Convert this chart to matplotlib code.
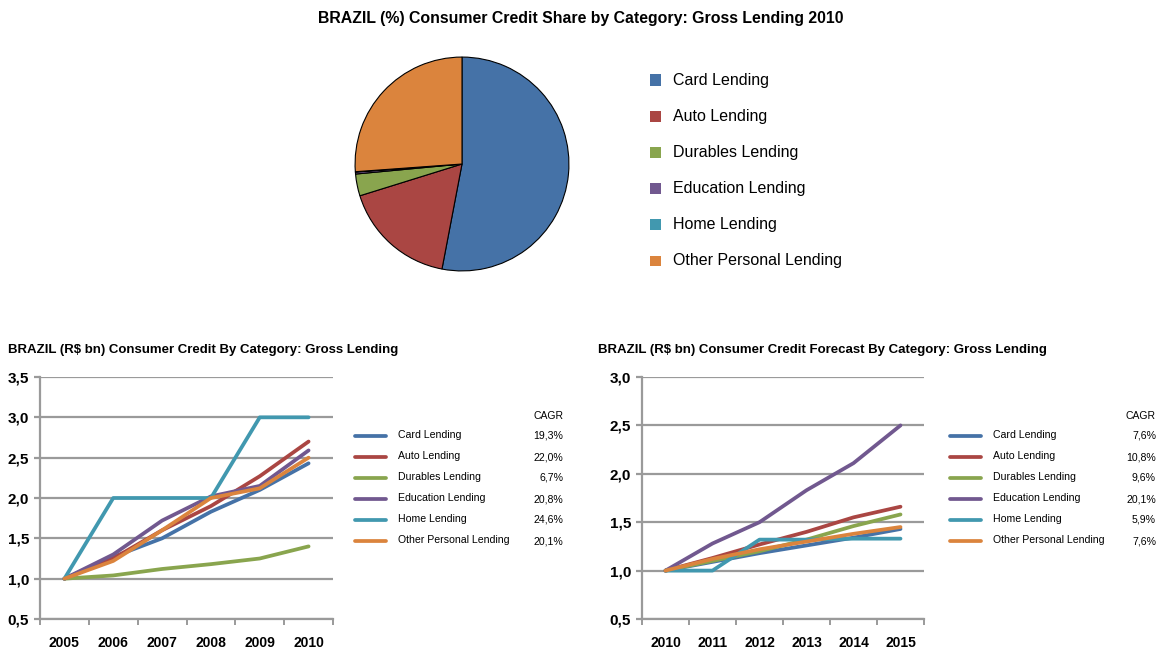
import matplotlib
matplotlib.use("Agg")
import matplotlib.pyplot as plt
from matplotlib.lines import Line2D
from matplotlib.patches import Rectangle
import numpy as np

plt.rcParams['font.family'] = ['Liberation Sans', 'DejaVu Sans']

W, H = 1162, 650

categories = ["Card Lending", "Auto Lending", "Durables Lending", "Education Lending",
              "Home Lending", "Other Personal Lending"]
colors = ["#4572A7", "#AA4643", "#89A54E", "#71588F", "#4198AF", "#DB843D"]

pie_share = [53.0, 17.2, 3.3, 0.3, 0.05, 26.15]

hist_years = ["2005", "2006", "2007", "2008", "2009", "2010"]
hist_card = [1.0, 1.27, 1.50, 1.83, 2.10, 2.43]
hist_auto = [1.0, 1.25, 1.60, 1.90, 2.27, 2.70]
hist_durables = [1.0, 1.04, 1.12, 1.18, 1.25, 1.40]
hist_education = [1.0, 1.30, 1.72, 2.02, 2.15, 2.59]
hist_home = [1.0, 2.0, 2.0, 2.0, 3.0, 3.0]
hist_other = [1.0, 1.22, 1.60, 2.00, 2.12, 2.50]
hist_cagr = ["19,3%", "22,0%", "6,7%", "20,8%", "24,6%", "20,1%"]

fc_years = ["2010", "2011", "2012", "2013", "2014", "2015"]
fc_card = [1.0, 1.09, 1.18, 1.26, 1.34, 1.43]
fc_auto = [1.0, 1.13, 1.27, 1.40, 1.55, 1.66]
fc_durables = [1.0, 1.10, 1.20, 1.32, 1.46, 1.58]
fc_education = [1.0, 1.28, 1.50, 1.83, 2.11, 2.50]
fc_home = [1.0, 1.0, 1.32, 1.32, 1.33, 1.33]
fc_other = [1.0, 1.12, 1.22, 1.30, 1.38, 1.45]
fc_cagr = ["7,6%", "10,8%", "9,6%", "20,1%", "5,9%", "7,6%"]

hist_series = [hist_card, hist_auto, hist_durables, hist_education, hist_home, hist_other]
fc_series = [fc_card, fc_auto, fc_durables, fc_education, fc_home, fc_other]

fig = plt.figure(figsize=(W / 100, H / 100), dpi=100)


def fx(px):
    return px / W


def fy(py):
    return 1 - py / H


def rect(l, t, r, b):
    return [fx(l), fy(b), fx(r) - fx(l), fy(t) - fy(b)]


# Title
fig.text(fx(581), fy(18), "BRAZIL (%) Consumer Credit Share by Category: Gross Lending 2010",
         ha="center", va="center", fontsize=11.4, fontweight="bold")

# Pie
axp = fig.add_axes(rect(354, 56, 570, 272))
axp.pie(pie_share, colors=colors, startangle=90, counterclock=False,
        wedgeprops=dict(edgecolor="black", linewidth=0.8))
axp.set_xlim(-1.01, 1.01)
axp.set_ylim(-1.01, 1.01)
axp.set_aspect("equal")

for i, (name, c) in enumerate(zip(categories, colors)):
    yy = 80 + i * 36.2
    fig.add_artist(Rectangle((fx(650), fy(yy + 5.5)), fx(11), fy(yy - 5.5) - fy(yy + 5.5),
                             transform=fig.transFigure, facecolor=c, edgecolor="none"))
    fig.text(fx(673), fy(yy), name, ha="left", va="center", fontsize=11.5)


def line_chart(box, years, series, ylim, yticks, title, title_xy, leg_x, cagr_x, cagr):
    ax = fig.add_axes(rect(*box))
    x = np.arange(len(years))
    for s, c in zip(series, colors):
        ax.plot(x, s, color=c, linewidth=2.7, solid_capstyle="round", zorder=3)
    ax.set_xlim(-0.5, len(years) - 0.5)
    ax.set_ylim(*ylim)
    ax.set_yticks(yticks)
    ax.set_yticklabels([f"{v:.1f}".replace(".", ",") for v in yticks],
                       fontsize=11, fontweight="bold")
    ax.yaxis.grid(True, color="#9a9a9a", linewidth=1.6)
    ax.set_axisbelow(True)
    ax.tick_params(axis="y", length=4, width=1.6, color="#9a9a9a", pad=4)
    ax.set_xticks(x)
    ax.set_xticklabels(years, fontsize=10, fontweight="bold")
    ax.set_xticks(np.arange(-0.5, len(years) + 0.5, 1), minor=True)
    ax.tick_params(axis="x", which="major", length=0, pad=12)
    ax.tick_params(axis="x", which="minor", length=4, width=1.4, color="#9a9a9a")
    for sp in ["top", "right"]:
        ax.spines[sp].set_visible(False)
    ax.spines["left"].set_color("#9a9a9a")
    ax.spines["left"].set_linewidth(1.6)
    ax.spines["bottom"].set_color("#9a9a9a")
    ax.spines["bottom"].set_linewidth(1.6)

    fig.text(fx(title_xy[0]), fy(title_xy[1]), title, ha="left", va="center",
             fontsize=9.5, fontweight="bold")
    fig.text(fx(cagr_x), fy(416), "CAGR", ha="right", va="center", fontsize=7.5)
    for i, (name, c, v) in enumerate(zip(categories, colors, cagr)):
        yy = 436 + i * 21
        fig.add_artist(Line2D([fx(leg_x), fx(leg_x + 31)], [fy(yy), fy(yy)],
                              transform=fig.transFigure, color=c, linewidth=2.7,
                              solid_capstyle="round"))
        fig.text(fx(leg_x + 43), fy(yy - 1), name, ha="left", va="center", fontsize=7.6)
        fig.text(fx(cagr_x), fy(yy), v, ha="right", va="center", fontsize=7.6)


line_chart((40, 377, 333, 619), hist_years, hist_series, (0.5, 3.5),
           [0.5, 1.0, 1.5, 2.0, 2.5, 3.0, 3.5],
           "BRAZIL (R\\$ bn) Consumer Credit By Category: Gross Lending", (8, 350),
           355, 563, hist_cagr)
line_chart((642, 377, 924, 619), fc_years, fc_series, (0.5, 3.0),
           [0.5, 1.0, 1.5, 2.0, 2.5, 3.0],
           "BRAZIL (R\\$ bn) Consumer Credit Forecast By Category: Gross Lending", (598, 350),
           950, 1156, fc_cagr)

fig.savefig("out.png", dpi=100)
